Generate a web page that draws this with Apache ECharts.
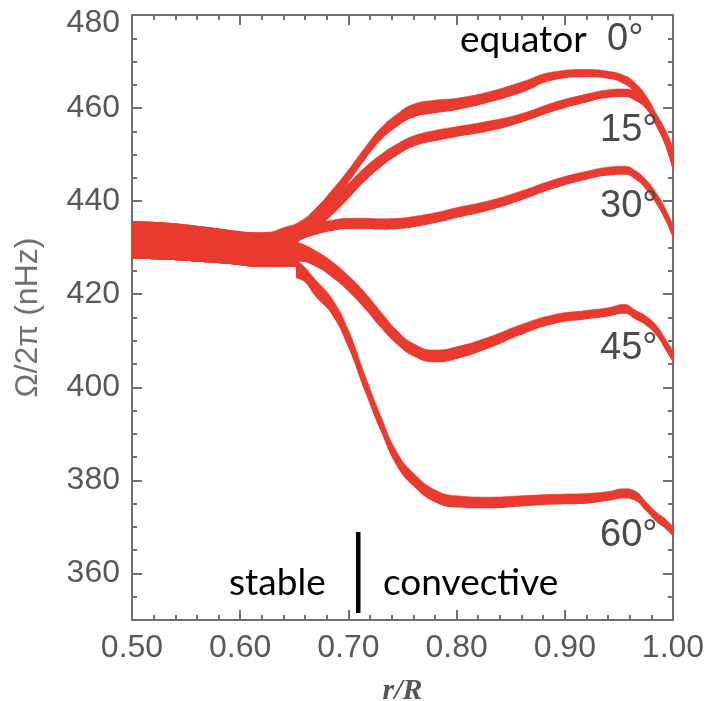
<!DOCTYPE html>
<html><head><meta charset="utf-8">
<script src="https://cdn.jsdelivr.net/npm/echarts@6/dist/echarts.min.js"></script>
<style>html,body{margin:0;padding:0;background:#fff}#c{width:709px;height:701px}</style>
</head><body><div id="c"></div>
<script>
// radius grid r/R
const R = [0.50, 0.53, 0.56, 0.59, 0.61, 0.625, 0.64, 0.655, 0.67, 0.685, 0.70, 0.715, 0.73, 0.745, 0.76, 0.78, 0.80, 0.83, 0.86, 0.89, 0.92, 0.94, 0.955, 0.965, 0.975, 0.985, 0.993, 1.00];
// latitude bands: lower and upper edge of each band (nHz)
const LAT0_LO  = [427.7, 427.4, 427.0, 426.5, 426.1, 428.5, 430.5, 432.7, 435.5, 439.6, 444.0, 448.8, 453.1, 456.0, 458.0, 458.9, 459.6, 461.2, 463.3, 466.0, 466.6, 466.3, 465.1, 463.2, 460.3, 455.8, 452.1, 448.6];
const LAT0_HI  = [435.6, 435.3, 434.6, 433.7, 433.2, 433.3, 434.3, 435.6, 438.5, 442.4, 446.7, 451.4, 455.7, 458.7, 460.8, 461.7, 462.1, 463.5, 465.6, 467.8, 468.3, 467.9, 467.0, 465.4, 462.7, 458.6, 455.3, 451.6];
const LAT15_LO = [427.7, 427.4, 427.0, 426.5, 426.1, 427.5, 429.5, 431.5, 434.0, 437.0, 440.5, 444.2, 447.3, 449.8, 451.7, 452.9, 453.8, 455.0, 456.9, 459.3, 461.2, 462.2, 462.4, 461.6, 459.8, 456.0, 451.7, 446.5];
const LAT15_HI = [435.6, 435.3, 434.6, 433.7, 433.2, 433.0, 434.0, 435.2, 437.6, 440.5, 443.8, 447.2, 450.0, 452.3, 454.0, 455.2, 456.0, 457.2, 458.8, 461.2, 463.0, 463.9, 464.1, 463.5, 461.8, 458.3, 454.2, 449.2];
const LAT30_LO = [427.7, 427.4, 427.0, 426.5, 426.1, 428.0, 430.0, 431.6, 432.8, 433.6, 434.0, 434.0, 433.9, 434.0, 434.4, 435.3, 436.4, 438.0, 440.2, 442.7, 444.6, 445.5, 445.7, 444.7, 442.5, 439.2, 435.8, 432.0];
const LAT30_HI = [435.6, 435.3, 434.6, 433.7, 433.2, 433.2, 434.0, 434.6, 435.3, 435.9, 436.3, 436.3, 436.2, 436.3, 436.7, 437.5, 438.6, 440.1, 442.2, 444.6, 446.4, 447.3, 447.5, 446.6, 444.6, 441.6, 438.4, 434.8];
const LAT45_LO = [427.7, 427.4, 427.0, 426.5, 426.1, 427.0, 426.9, 427.0, 425.9, 423.6, 420.6, 416.9, 412.8, 409.2, 406.7, 405.4, 406.1, 408.4, 411.3, 413.6, 414.6, 415.2, 415.8, 414.6, 413.3, 411.0, 408.0, 405.3];
const LAT45_HI = [435.6, 435.3, 434.6, 433.7, 433.2, 432.8, 432.0, 431.0, 429.3, 427.0, 424.0, 420.4, 416.2, 412.2, 409.4, 408.0, 408.7, 410.8, 413.5, 415.6, 416.5, 417.1, 417.8, 416.6, 415.3, 413.2, 410.4, 407.8];
const LAT60_LO = [427.7, 427.4, 427.0, 426.5, 425.8, 424.5, 423.8, 423.2, 419.4, 415.5, 408.5, 399.2, 390.5, 383.0, 378.8, 375.3, 374.2, 374.0, 374.4, 374.8, 375.0, 375.6, 376.1, 375.6, 373.4, 371.0, 369.6, 367.9];
const LAT60_HI = [435.6, 435.3, 434.6, 433.7, 432.6, 431.3, 429.0, 426.8, 423.0, 419.0, 412.3, 402.8, 393.8, 386.0, 381.6, 378.0, 376.7, 376.4, 376.7, 377.0, 377.2, 377.6, 378.2, 377.7, 375.4, 373.1, 371.7, 370.0];
const BANDS = [
  {name: '0°',  lo: LAT0_LO,  hi: LAT0_HI},
  {name: '15°', lo: LAT15_LO, hi: LAT15_HI},
  {name: '30°', lo: LAT30_LO, hi: LAT30_HI},
  {name: '45°', lo: LAT45_LO, hi: LAT45_HI},
  {name: '60°', lo: LAT60_LO, hi: LAT60_HI}
];
const X_TICKS = [0.5, 0.6, 0.7, 0.8, 0.9, 1.0];
const Y_TICKS = [360, 380, 400, 420, 440, 460, 480];

const RED = '#e83a2e';
const AX = '#6f6f6f';
const LBL = '#585858';

// rows are [value, r] so that the stacked dimension is the value (y) dimension
const series = [];
BANDS.forEach((b, k) => {
  series.push({
    type: 'line', name: b.name + ' base', stack: 'band' + k, stackStrategy: 'all',
    encode: {x: 1, y: 0},
    data: R.map((r, i) => [b.lo[i], r]),
    smooth: true, symbol: 'none', silent: true,
    lineStyle: {width: 0, opacity: 0}
  });
  series.push({
    type: 'line', name: b.name, stack: 'band' + k, stackStrategy: 'all',
    encode: {x: 1, y: 0},
    data: R.map((r, i) => [+(b.hi[i] - b.lo[i]).toFixed(2), r]),
    smooth: true, symbol: 'none', silent: true,
    lineStyle: {width: 0.6, color: RED},
    areaStyle: {color: RED, opacity: 1}
  });
});

const tickCommon = (len) => ({show: true, inside: true, length: len, lineStyle: {color: AX, width: 2}});

const option = {
  animation: false,
  backgroundColor: '#fff',
  grid: {left: 132, right: 36, top: 15, bottom: 81, containLabel: false, outerBoundsMode: 'none'},
  xAxis: [
    {type: 'value', min: 0.5, max: 1.0, interval: 0.1, position: 'bottom',
      axisLine: {show: true, onZero: false, lineStyle: {color: AX, width: 2}},
      axisTick: tickCommon(10),
      minorTick: {show: true, splitNumber: 5, length: 5, lineStyle: {color: AX, width: 2}},
      splitLine: {show: false},
      axisLabel: {color: LBL, fontFamily: 'Liberation Sans', fontSize: 32, margin: 12,
        customValues: X_TICKS, formatter: v => v.toFixed(2)},
      name: 'r/R', nameLocation: 'middle', nameGap: 56,
      nameTextStyle: {fontFamily: 'Liberation Serif', fontStyle: 'italic', fontWeight: 'bold', fontSize: 30, color: '#555'}
    },
    {type: 'value', min: 0.5, max: 1.0, interval: 0.1, position: 'top',
      axisLine: {show: true, onZero: false, lineStyle: {color: AX, width: 2}},
      axisTick: tickCommon(10),
      minorTick: {show: true, splitNumber: 5, length: 5, lineStyle: {color: AX, width: 2}},
      splitLine: {show: false}, axisLabel: {show: false}
    }
  ],
  yAxis: [
    {type: 'value', min: 350, max: 480, interval: 10, position: 'left',
      axisLine: {show: true, onZero: false, lineStyle: {color: AX, width: 2}},
      axisTick: Object.assign(tickCommon(10), {customValues: Y_TICKS}),
      splitLine: {show: false},
      axisLabel: {color: LBL, fontFamily: 'Liberation Sans', fontSize: 32, margin: 12,
        customValues: Y_TICKS,
        formatter: v => v === 480 ? '{t|480}' : String(v),
        rich: {t: {color: LBL, fontFamily: 'Liberation Sans', fontSize: 32, padding: [16, 0, 0, 0]}}},
      name: 'Ω/2π (nHz)', nameLocation: 'middle', nameGap: 88, nameRotate: 90,
      nameTextStyle: {fontFamily: 'Liberation Sans', fontSize: 32, color: '#707070'}
    },
    {type: 'value', min: 350, max: 480, interval: 5, position: 'left',
      axisLine: {show: false}, axisTick: tickCommon(5), splitLine: {show: false}, axisLabel: {show: false}},
    {type: 'value', min: 350, max: 480, interval: 10, position: 'right',
      axisLine: {show: true, onZero: false, lineStyle: {color: AX, width: 2}},
      axisTick: Object.assign(tickCommon(10), {customValues: Y_TICKS}),
      splitLine: {show: false}, axisLabel: {show: false}},
    {type: 'value', min: 350, max: 480, interval: 5, position: 'right',
      axisLine: {show: false}, axisTick: tickCommon(5), splitLine: {show: false}, axisLabel: {show: false}}
  ],
  series: series,
  graphic: [
    {type: 'rect', z: 50, silent: true, shape: {x: 200, y: 267, width: 96, height: 32}, style: {fill: '#fff'}},
    {type: 'rect', z: 50, silent: true, shape: {x: 356, y: 532, width: 4.5, height: 81}, style: {fill: '#000'}},
    {type: 'text', z: 50, x: 460, y: 40, style: {text: 'equator', fontFamily: 'Lato', fontSize: 37, fill: '#000', align: 'left', verticalAlign: 'middle'}},
    {type: 'text', z: 50, x: 607, y: 40, style: {text: '0°', fontFamily: 'Liberation Sans', fontSize: 38, fill: '#4a4a4a', align: 'left', verticalAlign: 'middle'}},
    {type: 'text', z: 50, x: 600, y: 131, style: {text: '15°', fontFamily: 'Liberation Sans', fontSize: 38, fill: '#4a4a4a', align: 'left', verticalAlign: 'middle'}},
    {type: 'text', z: 50, x: 600, y: 207, style: {text: '30°', fontFamily: 'Liberation Sans', fontSize: 38, fill: '#4a4a4a', align: 'left', verticalAlign: 'middle'}},
    {type: 'text', z: 50, x: 600, y: 349, style: {text: '45°', fontFamily: 'Liberation Sans', fontSize: 38, fill: '#4a4a4a', align: 'left', verticalAlign: 'middle'}},
    {type: 'text', z: 50, x: 600, y: 536, style: {text: '60°', fontFamily: 'Liberation Sans', fontSize: 38, fill: '#4a4a4a', align: 'left', verticalAlign: 'middle'}},
    {type: 'text', z: 50, x: 229, y: 583, style: {text: 'stable', fontFamily: 'Lato', fontSize: 37, fill: '#000', align: 'left', verticalAlign: 'middle'}},
    {type: 'text', z: 50, x: 383, y: 583, style: {text: 'convective', fontFamily: 'Lato', fontSize: 37, fill: '#000', align: 'left', verticalAlign: 'middle'}}
  ]
};

const chart = echarts.init(document.getElementById('c'), null, {renderer: 'canvas'});
chart.setOption(option);
</script></body></html>
